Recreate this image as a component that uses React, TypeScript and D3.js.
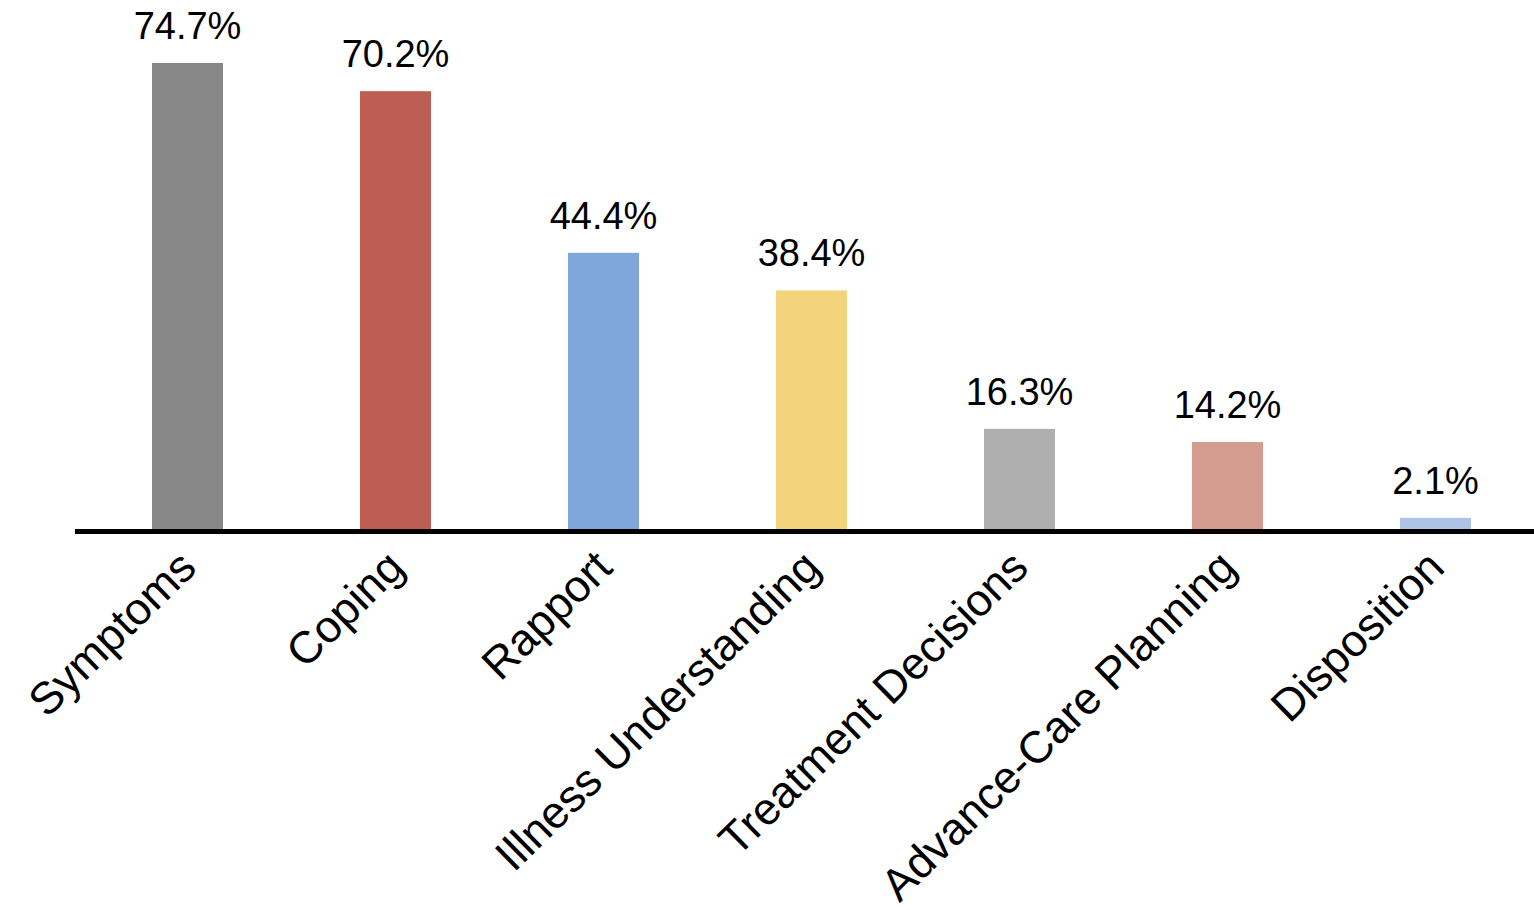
import React from "react";
import * as d3 from "d3";

// Share of conversations touching each topic (%)
const categories = [
  "Symptoms",
  "Coping",
  "Rapport",
  "Illness Understanding",
  "Treatment Decisions",
  "Advance-Care Planning",
  "Disposition",
];
const values = [74.7, 70.2, 44.4, 38.4, 16.3, 14.2, 2.1];
const colors = ["#878787", "#bc5e53", "#7fa7d9", "#f3d37c", "#afafaf", "#d49b8f", "#adc4e6"];

const W = 1534;
const H = 910;
const baseY = 531;
const pxPerPct = 6.265;

export default function App() {
  const inner = 137 / 208;
  const x = d3
    .scaleBand<string>()
    .domain(categories)
    .range([83.5, 1539.5])
    .paddingInner(inner)
    .paddingOuter(inner / 2);
  const y = d3.scaleLinear().domain([0, 80]).range([baseY, baseY - 80 * pxPerPct]);
  const fmt = (v: number) => `${v.toFixed(1)}%`;

  return (
    <svg
      width={W}
      height={H}
      viewBox={`0 0 ${W} ${H}`}
      style={{ position: "absolute", left: 0, top: 0, background: "#fff" }}
    >
      <rect x={0} y={0} width={W} height={H} fill="#fff" />
      {categories.map((c, i) => (
        <rect
          key={c}
          x={x(c)}
          y={y(values[i])}
          width={x.bandwidth()}
          height={baseY - y(values[i])}
          fill={colors[i]}
        />
      ))}
      {categories.map((c, i) => (
        <text
          key={`v-${c}`}
          x={(x(c) as number) + x.bandwidth() / 2}
          y={y(values[i]) - 24}
          textAnchor="middle"
          fontFamily="'Liberation Sans', Arial, sans-serif"
          fontSize={38}
          fill="#000"
        >
          {fmt(values[i])}
        </text>
      ))}
      <line x1={75} x2={W} y1={baseY + 0.5} y2={baseY + 0.5} stroke="#000" strokeWidth={5} />
      {categories.map((c) => {
        const cx = (x(c) as number) + x.bandwidth() / 2;
        return (
          <text
            key={`l-${c}`}
            transform={`translate(${cx + 11},${570}) rotate(-44.5)`}
            textAnchor="end"
            fontFamily="'Liberation Sans', Arial, sans-serif"
            fontSize={45}
            fill="#000"
          >
            {c}
          </text>
        );
      })}
    </svg>
  );
}
